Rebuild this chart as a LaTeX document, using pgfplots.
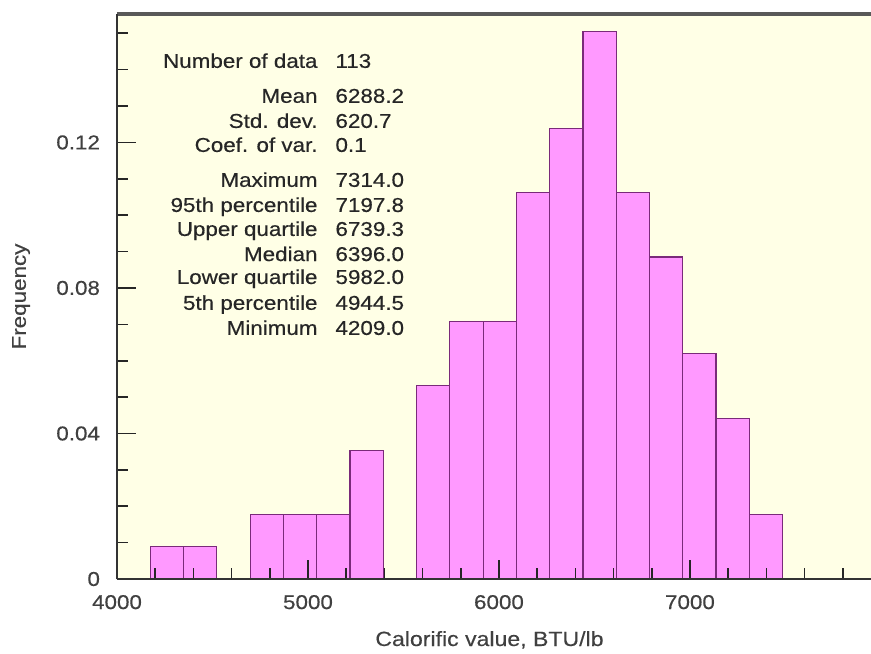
\documentclass[border=0pt]{standalone}
\usepackage{fontspec}
\setmainfont{Liberation Sans}[FakeStretch=1.12, FakeBold=0.4]
\usepackage{pgfplots}
\pgfplotsset{compat=1.18}
\usetikzlibrary{calc}
\definecolor{bg}{HTML}{FFFFE6}
\definecolor{barfill}{HTML}{FF99FF}
\definecolor{baredge}{HTML}{7A2A7A}
\definecolor{axisgray}{HTML}{333333}
\begin{document}
\begin{tikzpicture}
\begin{axis}[
  name=ax,
  width=377pt, height=282.5pt, scale only axis,
  xmin=4000, xmax=7948, ymin=0, ymax=0.1553,
  clip=false,
  axis on top,
  axis background/.style={fill=bg},
  axis x line*=bottom, axis y line*=left,
  axis line style={-, line width=1pt, axisgray},
  xtick align=inside, ytick align=inside,
  xtick={4000,5000,6000,7000},
  xticklabels={4000,5000,6000,7000},
  minor xtick={4200,4400,4600,4800,5200,5400,5600,5800,6200,6400,6600,6800,7200,7400,7600,7800},
  ytick={0,0.04,0.08,0.12},
  yticklabels={0,0.04,0.08,0.12},
  minor ytick={0.01,0.02,0.03,0.05,0.06,0.07,0.09,0.10,0.11,0.13,0.14,0.15},
  major tick length=9.5pt, minor tick length=5.5pt,
  every tick/.style={line width=0.8pt, black!85},
  /pgf/number format/assume math mode=true,
  tick label style={font=\fontsize{10}{12}\selectfont, black!75},
  xticklabel style={yshift=-4.5pt},
  yticklabel style={xshift=-5pt},
  xlabel={Calorific value, BTU/lb},
  xlabel style={at={(axis description cs:0.494,0)}, anchor=base, yshift=-33.5pt, font=\fontsize{10.3}{12}\selectfont, black!75},
  ylabel={Frequency},
  ylabel style={at={(axis description cs:-0.1273,0.5)}, anchor=center, font=\fontsize{10}{12}\selectfont, black!75},
]
\addplot[ybar interval, fill=barfill, draw=baredge, line width=0.6pt] coordinates {
  (4175,0.00885) (4349,0.00885) (4523,0)
};
\addplot[ybar interval, fill=barfill, draw=baredge, line width=0.6pt] coordinates {
  (4698,0.0177) (4872,0.0177) (5046,0.0177) (5220,0.0354) (5394,0)
};
\addplot[ybar interval, fill=barfill, draw=baredge, line width=0.6pt] coordinates {
  (5569,0.0531) (5743,0.0708) (5917,0.0708) (6091,0.1062) (6265,0.1239)
  (6440,0.1504) (6614,0.1062) (6788,0.0885) (6962,0.0619) (7136,0.0442)
  (7311,0.0177) (7485,0)
};
\draw[line width=1.8pt, black!65] (rel axis cs:0,1) -- (rel axis cs:1,1);
\begin{scope}[every node/.style={font=\fontsize{10}{12}\selectfont, text=black!85, inner sep=0pt}]
\node[anchor=base east] at (axis cs:5052,0.1405) {Number of data};
\node[anchor=base west] at (axis cs:5142,0.1405) {113};
\node[anchor=base east] at (axis cs:5052,0.1309) {Mean};
\node[anchor=base west] at (axis cs:5142,0.1309) {6288.2};
\node[anchor=base east] at (axis cs:5052,0.1240) {Std. dev.};
\node[anchor=base west] at (axis cs:5142,0.1240) {620.7};
\node[anchor=base east] at (axis cs:5052,0.1174) {Coef. of var.};
\node[anchor=base west] at (axis cs:5142,0.1174) {0.1};
\node[anchor=base east] at (axis cs:5052,0.1078) {Maximum};
\node[anchor=base west] at (axis cs:5142,0.1078) {7314.0};
\node[anchor=base east] at (axis cs:5052,0.1009) {95th percentile};
\node[anchor=base west] at (axis cs:5142,0.1009) {7197.8};
\node[anchor=base east] at (axis cs:5052,0.0943) {Upper quartile};
\node[anchor=base west] at (axis cs:5142,0.0943) {6739.3};
\node[anchor=base east] at (axis cs:5052,0.0874) {Median};
\node[anchor=base west] at (axis cs:5142,0.0874) {6396.0};
\node[anchor=base east] at (axis cs:5052,0.0811) {Lower quartile};
\node[anchor=base west] at (axis cs:5142,0.0811) {5982.0};
\node[anchor=base east] at (axis cs:5052,0.0740) {5th percentile};
\node[anchor=base west] at (axis cs:5142,0.0740) {4944.5};
\node[anchor=base east] at (axis cs:5052,0.0671) {Minimum};
\node[anchor=base west] at (axis cs:5142,0.0671) {4209.0};
\end{scope}
\end{axis}
\pgfresetboundingbox
\path[use as bounding box] ($(ax.south west)+(-58.5pt,-37pt)$) rectangle ($(ax.north east)+(0pt,7pt)$);
\end{tikzpicture}
\end{document}
